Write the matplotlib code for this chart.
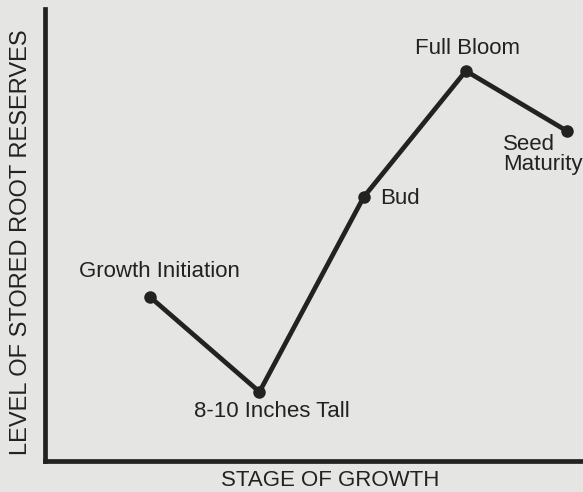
import matplotlib
matplotlib.use("Agg")
import matplotlib.pyplot as plt

plt.rcParams['font.family'] = ['Liberation Sans', 'DejaVu Sans']

# Data (stage position, relative level of stored root reserves, 0-100)
stages = ["Growth Initiation", "8-10 Inches Tall", "Bud", "Full Bloom", "Seed\nMaturity"]
stage_pos = [1.0, 2.05, 3.05, 4.03, 5.0]
reserves = [36.3, 15.3, 58.4, 86.3, 73.0]

# label offsets in points and alignment
offsets = [(7, 18), (9, -14), (12, -1), (1, 16), (-46, -17)]
aligns = ["center", "center", "left", "center", "left"]

bg = "#e5e5e3"
ink = "#222222"

fig = plt.figure(figsize=(5.83, 4.92), dpi=100, facecolor=bg)
ax = fig.add_axes([45/583, (492-461)/492, (583-45)/583, (461-9)/492], facecolor=bg)

ax.plot(stage_pos, reserves, color=ink, lw=3.4, marker="o", ms=8,
        solid_capstyle="round", solid_joinstyle="round", zorder=3)

for x, y, lab, off, ha in zip(stage_pos, reserves, stages, offsets, aligns):
    ax.annotate(lab, (x, y), xytext=off, textcoords="offset points",
                ha=ha, va="center", fontsize=16, color=ink, linespacing=0.95)

# map stage 1 -> 105 px, stage 5 -> 522 px in a 538 px wide axes
span = (5.0 - 1.0) / (522 - 105)
ax.set_xlim(1.0 - 105 * span, 1.0 + (538 - 105) * span)
ax.set_ylim(0, 100)

for s in ["top", "right"]:
    ax.spines[s].set_visible(False)
for s in ["left", "bottom"]:
    ax.spines[s].set_linewidth(3.4)
    ax.spines[s].set_color(ink)
ax.set_xticks([])
ax.set_yticks([])

fig.text(330/583, 1 - 480/492, "STAGE OF GROWTH", ha="center", va="center",
         fontsize=16, color=ink)
fig.text(21/583, 1 - 242/492, "LEVEL OF STORED ROOT RESERVES", ha="center", va="center",
         rotation=90, fontsize=17, color=ink)

fig.savefig("out.png", dpi=100, facecolor=bg)
